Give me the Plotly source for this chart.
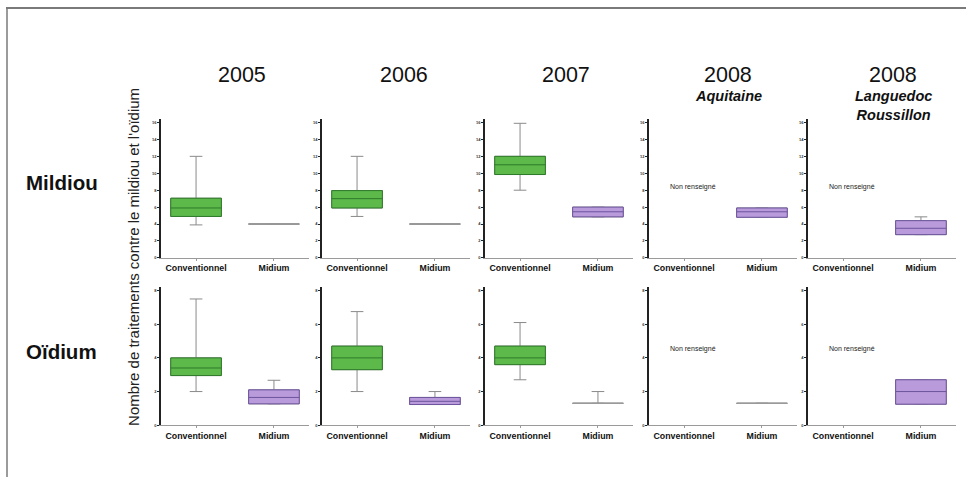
import plotly.graph_objects as go

# ---------------- data ----------------
years = ["2005", "2006", "2007", "2008", "2008"]
subtitles = ["", "", "", "Aquitaine", "Languedoc<br>Roussillon"]
categories = ["Conventionnel", "Midium"]
diseases = ["Mildiou", "Oïdium"]
missing_text = "Non renseigné"

# Mildiou - Conventionnel (None = non renseigné)
mil_conv_low = [3.9, 4.9, 8.0, None, None]
mil_conv_q1 = [4.9, 5.9, 9.85, None, None]
mil_conv_med = [5.9, 7.0, 11.0, None, None]
mil_conv_q3 = [7.05, 7.95, 12.0, None, None]
mil_conv_high = [12.0, 12.0, 15.9, None, None]

# Mildiou - Midium
mil_mid_low = [4.0, 4.0, 4.85, 4.8, 2.75]
mil_mid_q1 = [4.0, 4.0, 4.85, 4.8, 2.75]
mil_mid_med = [4.0, 4.0, 5.45, 5.45, 3.5]
mil_mid_q3 = [4.0, 4.0, 6.0, 5.9, 4.4]
mil_mid_high = [4.0, 4.0, 6.0, 5.9, 4.85]

# Oïdium - Conventionnel
oid_conv_low = [2.0, 2.0, 2.7, None, None]
oid_conv_q1 = [2.95, 3.3, 3.6, None, None]
oid_conv_med = [3.4, 4.0, 4.0, None, None]
oid_conv_q3 = [4.0, 4.7, 4.7, None, None]
oid_conv_high = [7.5, 6.75, 6.1, None, None]

# Oïdium - Midium
oid_mid_low = [1.27, 1.23, 1.3, 1.3, 1.25]
oid_mid_q1 = [1.27, 1.23, 1.3, 1.3, 1.25]
oid_mid_med = [1.65, 1.42, 1.3, 1.3, 2.0]
oid_mid_q3 = [2.1, 1.65, 1.3, 1.3, 2.7]
oid_mid_high = [2.67, 2.0, 2.0, 1.3, 2.7]

mil_ticks = [0, 2, 4, 6, 8, 10, 12, 14, 16]
oid_ticks = [0, 2, 4, 6, 8]
y_title = "Nombre de traitements contre le mildiou et l'oïdium"

# ---------------- styling ----------------
W, H = 966, 479
FONT = "Liberation Sans, Arial, Helvetica, sans-serif"
fills = {"Conventionnel": "#5cb94a", "Midium": "#b99bdb"}
edges = {"Conventionnel": "#2f7a2a", "Midium": "#6d559e"}
whisker_col = "#8a8a8a"

col_left_px = [161, 322, 485, 649, 808]
col_w_px = 148
rows_px = [(120, 259), (288.4, 427)]
row_ranges = [[0, 16.35], [0, 8.2]]
row_ticks = [mil_ticks, oid_ticks]

data = [
    {
        "Conventionnel": (mil_conv_low, mil_conv_q1, mil_conv_med, mil_conv_q3, mil_conv_high),
        "Midium": (mil_mid_low, mil_mid_q1, mil_mid_med, mil_mid_q3, mil_mid_high),
    },
    {
        "Conventionnel": (oid_conv_low, oid_conv_q1, oid_conv_med, oid_conv_q3, oid_conv_high),
        "Midium": (oid_mid_low, oid_mid_q1, oid_mid_med, oid_mid_q3, oid_mid_high),
    },
]
missing_y = [8.4, 4.5]

fig = go.Figure()
annotations = []

for r in range(2):
    for c in range(5):
        idx = r * 5 + c + 1
        xa = "x" if idx == 1 else f"x{idx}"
        ya = "y" if idx == 1 else f"y{idx}"
        for cat in categories:
            low, q1, med, q3, high = data[r][cat]
            if q1[c] is None:
                annotations.append(dict(
                    x=-0.2, y=missing_y[r], xref=xa, yref=ya, text=missing_text,
                    showarrow=False, xanchor="left", yanchor="middle",
                    font=dict(size=7, color="#222", family=FONT)))
                continue
            degenerate = q1[c] == q3[c]
            # whiskers (grey)
            fig.add_trace(go.Box(
                x=[cat], q1=[q1[c]], median=[med[c]], q3=[q3[c]],
                lowerfence=[low[c]], upperfence=[high[c]],
                xaxis=xa, yaxis=ya, width=0.65, whiskerwidth=0.25,
                fillcolor=fills[cat], line=dict(color=whisker_col, width=1),
                boxpoints=False, showlegend=False, hoverinfo="skip"))
            # box outline + median
            fig.add_trace(go.Box(
                x=[cat], q1=[q1[c]], median=[med[c]], q3=[q3[c]],
                lowerfence=[q1[c]], upperfence=[q3[c]],
                xaxis=xa, yaxis=ya, width=0.65, whiskerwidth=0,
                fillcolor=fills[cat],
                line=dict(color=("#9a9a9a" if degenerate else edges[cat]), width=1),
                boxpoints=False, showlegend=False, hoverinfo="skip"))

        x0 = col_left_px[c] / W
        x1 = (col_left_px[c] + col_w_px) / W
        top_px, bot_px = rows_px[r]
        fig.update_layout(**{
            ("xaxis" if idx == 1 else f"xaxis{idx}"): dict(
                domain=[x0, x1], anchor=ya, type="category",
                categoryorder="array", categoryarray=categories,
                range=[-0.45, 1.45], showgrid=False, zeroline=False,
                showline=True, linecolor="#9a9a9a", linewidth=1,
                ticks="outside", ticklen=2, tickcolor="#9a9a9a",
                tickfont=dict(size=8.8, family=FONT, color="#111"),
                tickprefix="<b>", ticksuffix="</b>", fixedrange=True),
            ("yaxis" if idx == 1 else f"yaxis{idx}"): dict(
                domain=[1 - bot_px / H, 1 - top_px / H], anchor=xa,
                range=row_ranges[r], tickvals=row_ticks[r],
                ticktext=[f"<b>{v}</b>" for v in row_ticks[r]],
                showgrid=False, zeroline=False, showline=True,
                linecolor="#222", linewidth=1.5, ticks="outside", ticklen=2,
                tickcolor="#222", tickfont=dict(size=4, family=FONT, color="#333"),
                fixedrange=True),
        })

# column headers
header_cx = [242, 404, 566, 728, 893]
for c in range(5):
    annotations.append(dict(
        x=header_cx[c] / W, y=1 - 75 / H, xref="paper", yref="paper",
        text=years[c], showarrow=False, xanchor="center", yanchor="middle",
        font=dict(size=21.5, family=FONT, color="#111")))
    if subtitles[c]:
        annotations.append(dict(
            x=header_cx[c] / W, y=1 - 86 / H, xref="paper", yref="paper",
            text=f"<b><i>{subtitles[c]}</i></b>", showarrow=False,
            xanchor="center", yanchor="top", align="center",
            font=dict(size=14.5, family=FONT, color="#111")))

# row labels
row_label_y = [183, 353]
for r in range(2):
    annotations.append(dict(
        x=24 / W, y=1 - row_label_y[r] / H, xref="paper", yref="paper",
        text=f"<b>{diseases[r]}</b>", showarrow=False, xanchor="left",
        yanchor="middle", font=dict(size=20.5, family=FONT, color="#111")))

# y-axis title
annotations.append(dict(
    x=134 / W, y=1 - 258 / H, xref="paper", yref="paper", text=y_title,
    textangle=-90, showarrow=False, xanchor="center", yanchor="middle",
    font=dict(size=15, family=FONT, color="#222")))

# frame (top and left edges only)
shapes = [
    dict(type="line", xref="paper", yref="paper", x0=6 / W, x1=966 / W, y0=1 - 8 / H, y1=1 - 8 / H,
         line=dict(color="#7a7a7a", width=2)),
    dict(type="line", xref="paper", yref="paper", x0=7 / W, x1=7 / W, y0=0, y1=1 - 8 / H,
         line=dict(color="#7a7a7a", width=1.5)),
]

fig.update_layout(
    width=W, height=H, margin=dict(l=0, r=0, t=0, b=0),
    paper_bgcolor="white", plot_bgcolor="white",
    boxmode="overlay", annotations=annotations, shapes=shapes,
    font=dict(family=FONT),
)

fig.write_html(
    "out.html",
    config={"displayModeBar": False, "responsive": False},
    post_script=(
        "document.body.style.margin='0';"
        "document.body.style.padding='0';"
        "document.body.style.overflow='hidden';"
        "document.documentElement.style.overflow='hidden';"
    ),
)
